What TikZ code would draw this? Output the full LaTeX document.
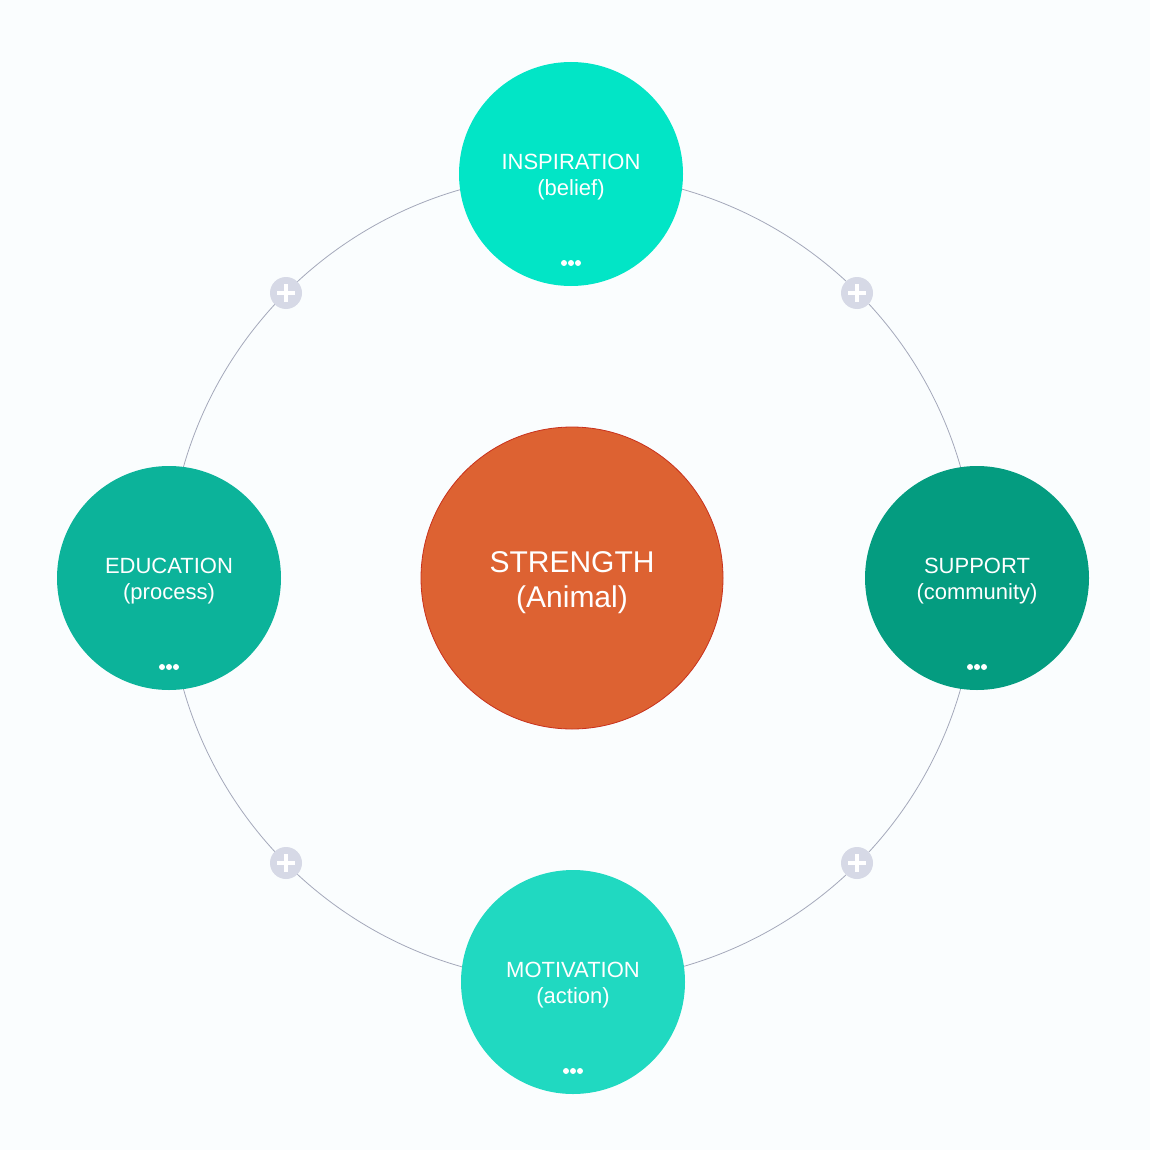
\documentclass[tikz,border=0pt]{standalone}
\usepackage{fontspec}
\setmainfont{Liberation Sans}
\definecolor{bgc}{HTML}{FAFDFE}
\definecolor{ringc}{HTML}{A4A8BA}
\definecolor{topc}{HTML}{02E5C6}
\definecolor{leftc}{HTML}{0CB39A}
\definecolor{rightc}{HTML}{049C80}
\definecolor{botc}{HTML}{20D9C1}
\definecolor{midc}{HTML}{DD6232}
\definecolor{midb}{HTML}{C8311C}
\definecolor{plusc}{HTML}{D6D9E6}
\begin{document}
\begin{tikzpicture}[x=1pt,y=-1pt,
  petal/.style={circle,minimum size=224pt,inner sep=0pt},
  petaltext/.style={text=white,align=center,inner sep=0pt,font=\fontsize{22}{26}\selectfont},
  core/.style={circle,minimum size=302pt,inner sep=0pt,fill=midc,draw=midb,line width=0.8pt},
  coretext/.style={text=white,align=center,inner sep=0pt,font=\fontsize{30}{35}\selectfont},
  plusbtn/.style={circle,fill=plusc,minimum size=32pt,inner sep=0pt},
  ring/.style={draw=ringc,line width=0.8pt}]
\fill[bgc] (0,0) rectangle (1150,1150);
\useasboundingbox (0,0) rectangle (1150,1150);
\coordinate (c) at (572,578);
\draw[ring] (c) circle[radius=404pt];
\node[core] (mid) at (c) {};
\node[coretext] (midlbl) at ([yshift=-5pt]mid.center) {STRENGTH\\(Animal)};
\node[petal,fill=topc] (top) at (571,174) {};
\node[petal,fill=leftc] (left) at (169,578) {};
\node[petal,fill=rightc] (right) at (977,578) {};
\node[petal,fill=botc] (bot) at (573,982) {};
\node[petaltext] (toplbl) at ([yshift=-3pt]top.center) {INSPIRATION\\(belief)};
\node[petaltext] (leftlbl) at ([yshift=-3pt]left.center) {EDUCATION\\(process)};
\node[petaltext] (rightlbl) at ([yshift=-3pt]right.center) {SUPPORT\\(community)};
\node[petaltext] (botlbl) at ([yshift=-3pt]bot.center) {MOTIVATION\\(action)};
\foreach \n in {top,left,right,bot}{
  \foreach \dx in {-7,0,7}{
    \fill[white] ([xshift=\dx pt,yshift=-89pt]\n.center) circle[radius=3pt];
  }
}
\foreach \i/\x/\y in {1/286/293,2/857/293,3/286/863,4/857/863}{
  \node[plusbtn] (p\i) at (\x,\y) {};
  \draw[white,line width=3.6pt] ([xshift=-9pt]p\i.center) -- ([xshift=9pt]p\i.center);
  \draw[white,line width=3.6pt] ([yshift=-9pt]p\i.center) -- ([yshift=9pt]p\i.center);
}
\end{tikzpicture}
\end{document}
